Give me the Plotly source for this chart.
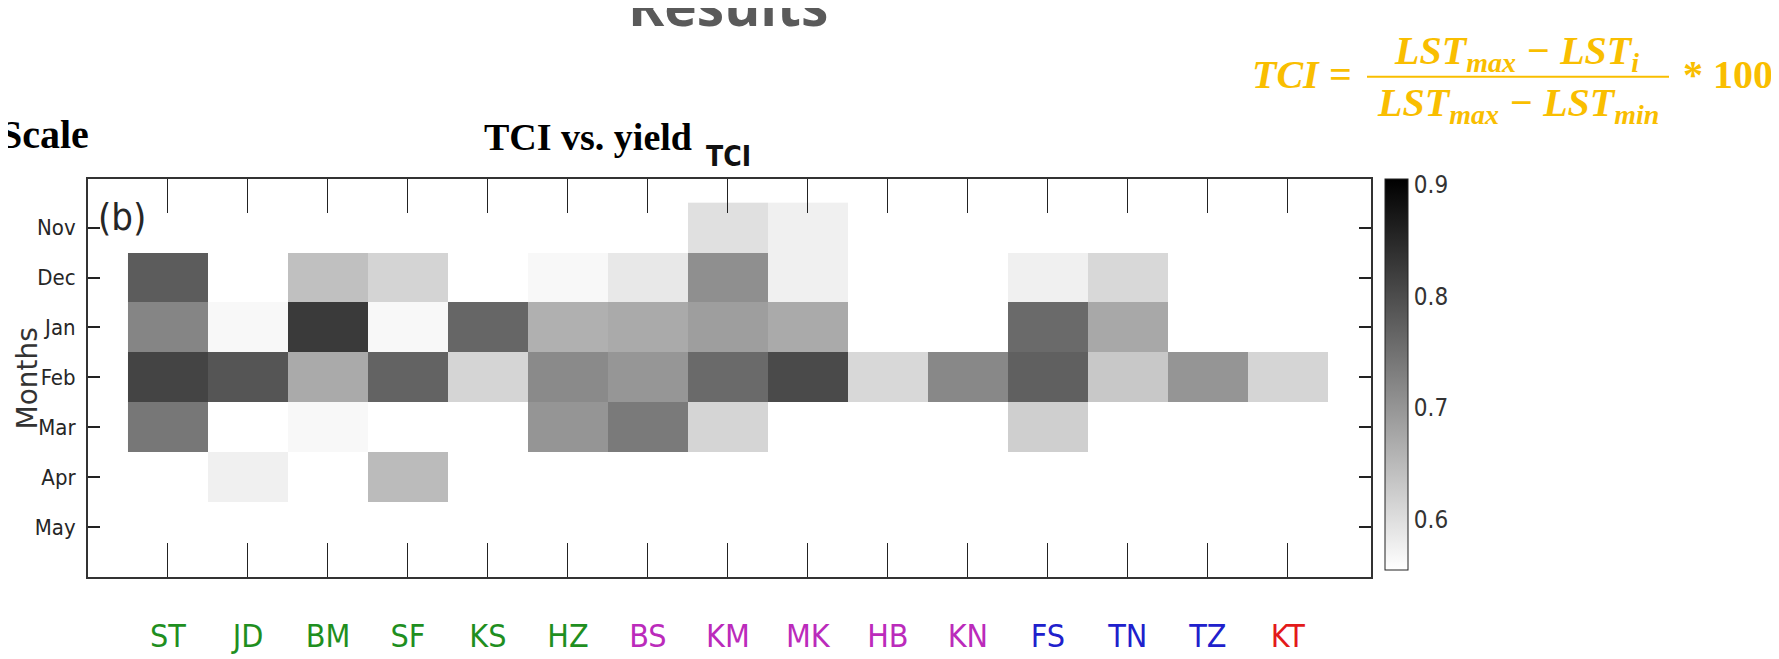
import plotly.graph_objects as go

# ---------------- data ----------------
stations = ["ST", "JD", "BM", "SF", "KS", "HZ", "BS", "KM", "MK", "HB", "KN", "FS", "TN", "TZ", "KT"]
station_colors = ["#1f8f1f"] * 6 + ["#bb2bbb"] * 5 + ["#2020cc"] * 3 + ["#e31a1a"]
months = ["Nov", "Dec", "Jan", "Feb", "Mar", "Apr", "May"]
N = None
# TCI correlation values (rows = months, columns = stations)
tci_nov = [N, N, N, N, N, N, N, 0.598, 0.576, N, N, N, N, N, N]
tci_dec = [0.779, N, 0.641, 0.614, N, 0.565, 0.587, 0.709, 0.576, N, N, 0.576, 0.609, N, N]
tci_jan = [0.722, 0.565, 0.825, 0.565, 0.765, 0.663, 0.672, 0.688, 0.672, N, N, 0.760, 0.674, N, N]
tci_feb = [0.812, 0.788, 0.672, 0.769, 0.613, 0.716, 0.699, 0.760, 0.803, 0.609, 0.718, 0.773, 0.630, 0.700, 0.613]
tci_mar = [0.742, N, 0.565, N, N, 0.700, 0.738, 0.613, N, N, N, 0.621, N, N, N]
tci_apr = [N, 0.576, N, 0.648, N, N, N, N, N, N, N, N, N, N, N]
tci_may = [N] * 15
z_values = [tci_nov, tci_dec, tci_jan, tci_feb, tci_mar, tci_apr, tci_may]
cbar_ticks = [0.6, 0.7, 0.8, 0.9]
z_min, z_max = 0.555, 0.905

# ---------------- layout geometry (pixels) ----------------
W, H = 1779, 659
L, R, T, B = 80, 1363, 171, 580
PW, PH = R - L, B - T


def px(x):
    return (x - L) / PW


def py(y):
    return (B - y) / PH


narrow = "Liberation Sans Narrow, Arial Narrow, DejaVu Sans Condensed, sans-serif"
serif = "Liberation Serif, Times New Roman, serif"
dark = "#262626"
gold = "#F9BE00"

fig = go.Figure()
fig.add_trace(go.Heatmap(
    x=stations, y=months, z=z_values,
    zmin=z_min, zmax=z_max,
    colorscale=[[0, "#ffffff"], [1, "#000000"]],
    hoverongaps=False,
    colorbar=dict(
        x=px(1377), xanchor="left", xpad=0,
        y=1, yanchor="top", len=(573 - T) / PH, lenmode="fraction", ypad=0,
        thickness=23, outlinewidth=1, outlinecolor="#222",
        tickvals=cbar_ticks, ticktext=[str(v) for v in cbar_ticks],
        ticks="", tickfont=dict(family=narrow, size=24, color="#333"),
    ),
))

fig.update_xaxes(
    range=[-1, 15.04], tickvals=stations,
    ticktext=[f'<span style="color:{c}">{s}</span>' for s, c in zip(stations, station_colors)],
    ticks="inside", ticklen=34, tickcolor="#222", tickwidth=1,
    showline=True, linecolor="#333", linewidth=2, mirror="ticks",
    showgrid=False, zeroline=False,
    tickfont=dict(family=narrow, size=32), ticklabelstandoff=30,
)
fig.update_yaxes(
    range=[7.0, -0.975], tickvals=months,
    ticks="inside", ticklen=12, tickcolor="#222", tickwidth=2,
    showline=True, linecolor="#333", linewidth=2, mirror="ticks",
    showgrid=False, zeroline=False,
    tickfont=dict(family=narrow, size=22, color=dark), ticklabelstandoff=6,
)


def note(text, x, y, size, family, color, xanchor="center", yanchor="middle", angle=0):
    return dict(text=text, x=px(x), y=py(y), xref="paper", yref="paper", showarrow=False,
                textangle=angle, font=dict(family=family, size=size, color=color),
                xanchor=xanchor, yanchor=yanchor)


ann = [
    note("Months", 19, 376, 28, "DejaVu Sans, sans-serif", "#333", angle=-90),
    note("(b)", 114, 210, 38, narrow, dark),
    note("<b>TCI</b>", 720, 148, 28, narrow, "#111"),
    note("<b>Scale</b>", -10, 125, 40, serif, "#000", xanchor="left"),
    note("<b>TCI vs. yield</b>", 474, 128, 38, serif, "#000", xanchor="left"),
    note("<b>Results</b>", 720, 32, 55, "Open Sans, sans-serif", "#5a5a5a", yanchor="bottom"),
    note("<b><i>TCI =</i></b>", 1242, 64, 40, serif, gold, xanchor="left"),
    note("<b><i>LST<sub>max</sub> − LST<sub>i</sub></i></b>", 1508, 42, 40, serif, gold),
    note("<b><i>LST<sub>max</sub> − LST<sub>min</sub></i></b>", 1510, 95, 40, serif, gold),
    note("<b>* 100</b>", 1673, 64, 40, serif, gold, xanchor="left"),
]

fig.add_shape(type="line", xref="paper", yref="paper",
              x0=px(1359), x1=px(1661), y0=py(66), y1=py(66),
              line=dict(color=gold, width=2))

fig.update_layout(
    width=W, height=H,
    margin=dict(l=L, r=W - R, t=T, b=H - B, pad=0),
    paper_bgcolor="white", plot_bgcolor="white",
    annotations=ann, showlegend=False,
)

fig.write_html("out.html")
